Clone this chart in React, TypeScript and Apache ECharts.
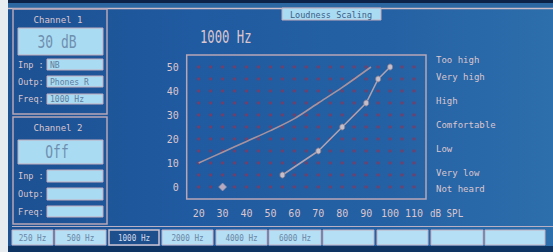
import React, { useEffect, useRef } from "react";
import * as echarts from "echarts";

// Grid of reference dots (dB SPL x loudness category units)
const gridX = [20, 25, 30, 35, 40, 45, 50, 55, 60, 65, 70, 75, 80, 85, 90, 95, 100, 105, 110];
const gridY = [0, 5, 10, 15, 20, 25, 30, 35, 40, 45, 50];

// Normal-hearing reference curve
const refLevels = [20, 30, 40, 50, 60, 70, 80, 92];
const refScale = [10, 14.5, 19, 23.5, 28.5, 35, 41.5, 50];

// Patient's loudness scaling results
const patLevels = [55, 70, 80, 90, 95, 100];
const patScale = [5, 15, 25, 35, 45, 50];

// Not heard marker
const notHeardLevel = [30];
const notHeardScale = [0];

// Loudness category labels (right side) and their scale positions
const catNames = ["Too high", "Very high", "High", "Comfortable", "Low", "Very low", "Not heard"];
const catValues = [53, 46, 36, 26, 16, 6, -1];

const xUnit = "dB SPL";
const freqButtons = ["250 Hz", "500 Hz", "1000 Hz", "2000 Hz", "4000 Hz", "6000 Hz", "", "", "", ""];
const selectedFreq = 2;

const FONT = '"DejaVu Sans Mono", monospace';
const TXT = "#dcc6ce";
const LINE = "#b8a6b6";
const BOX = "#a9dbf3";
const BOXTXT = "#5f7d9c";

function App() {
  const ref = useRef<HTMLDivElement>(null);
  useEffect(() => {
    if (!ref.current) return;
    const chart = echarts.init(ref.current, undefined, { renderer: "svg" });

    const dots: number[][] = [];
    gridX.forEach((x) => gridY.forEach((y) => dots.push([x, y])));
    const refData = refLevels.map((x, i) => [x, refScale[i]]);
    const patData = patLevels.map((x, i) => [x, patScale[i]]);
    const nhData = notHeardLevel.map((x, i) => [x, notHeardScale[i]]);
    const catMap: Record<string, string> = {};
    catValues.forEach((v, i) => (catMap[String(v)] = catNames[i]));

    const g: any[] = [];
    const text = (x: number, y: number, t: string, size: number, fill: string, align = "left", sx = 1) =>
      g.push({
        type: "text",
        x,
        y,
        scaleX: sx,
        style: { text: t, fill, font: `${size}px ${FONT}`, textAlign: align, textVerticalAlign: "middle" },
      });
    const rect = (x: number, y: number, w: number, h: number, fill: string, stroke?: string, lw = 1) =>
      g.push({ type: "rect", shape: { x, y, width: w, height: h }, style: { fill, stroke, lineWidth: lw } });
    const line = (x1: number, y1: number, x2: number, y2: number, stroke: string, lw = 1.5) =>
      g.push({ type: "line", shape: { x1, y1, x2, y2 }, style: { stroke, lineWidth: lw } });

    // frame / photo edges
    rect(0, 0, 553, 3, "#0c2246");
    rect(8, 3, 545, 5, "#2c67a2");
    rect(0, 0, 8, 252, "#e6ecf0");
    line(8, 8.5, 553, 8.5, "#cbbcc8", 1.5);
    rect(8, 246, 545, 6, "#0e3463");
    line(12, 226.5, 553, 226.5, "#b8b0c4", 1.2);

    // Channel panels
    const channel = (top: number, h: number, title: string, value: string, vBox: number[], rows: number[][], vals: string[]) => {
      rect(13, top, 94, h, "rgba(0,0,0,0)", LINE, 1.5);
      text(58, top + 11, title, 9, TXT, "center");
      rect(18, vBox[0], 85, vBox[1], BOX, "#c4acbc", 1);
      text(57, vBox[0] + vBox[1] / 2, value, 18, "#6f8fae", "center", 0.72);
      const labels = ["Inp :", "Outp:", "Freq:"];
      rows.forEach((r, i) => {
        text(18, r[0] + r[1] / 2, labels[i], 9, TXT, "left", 0.95);
        rect(47, r[0], 56, r[1], BOX, "#c4acbc", 1);
        if (vals[i]) text(50, r[0] + r[1] / 2, vals[i], 8.5, BOXTXT, "left", 0.95);
      });
    };
    channel(9, 105, "Channel 1", "30 dB", [28, 27], [[59, 11], [76, 11], [94, 10]], ["NB", "Phones R", "1000 Hz"]);
    channel(117, 107, "Channel 2", "Off", [140, 24], [[170, 12], [188, 12], [206, 11]], ["", "", ""]);

    // title tab and frequency
    rect(282, 8, 99, 12, BOX, "#c4acbc", 1);
    text(331, 14.5, "Loudness Scaling", 9, "#3d5f86", "center", 0.95);
    text(200, 37, "1000 Hz", 18, TXT, "left", 0.68);
    text(430, 213, xUnit, 10, TXT, "left", 0.92);

    // frequency buttons
    const bx = [12, 55, 109, 162, 216, 269, 323, 377, 431, 485];
    const bw = [41, 51, 50, 51, 51, 52, 51, 51, 52, 60];
    freqButtons.forEach((f, i) => {
      const sel = i === selectedFreq;
      rect(bx[i], 230, bw[i], 15, sel ? "#1c4f8c" : "#b4dff4", sel ? "#d0c4d0" : "#c6b0c0", sel ? 1.5 : 1);
      if (f) text(bx[i] + bw[i] / 2, 237.5, f, 8.5, sel ? "#d6dcec" : "#6a86a6", "center", 0.9);
    });

    chart.setOption({
      animation: false,
      backgroundColor: "transparent",
      textStyle: { fontFamily: FONT },
      grid: {
        left: 186.7,
        right: 127,
        top: 55,
        bottom: 53,
        show: true,
        borderColor: LINE,
        borderWidth: 1.5,
        backgroundColor: "transparent",
      },
      xAxis: {
        type: "value",
        min: 15,
        max: 115,
        interval: 5,
        splitLine: { show: false },
        axisTick: { show: false },
        axisLine: { show: false },
        axisLabel: {
          color: TXT,
          fontSize: 10,
          fontFamily: FONT,
          margin: 9,
          formatter: (v: number) => (v % 10 === 0 && v >= 20 && v <= 110 ? String(v) : ""),
        },
      },
      yAxis: [
        {
          type: "value",
          min: -5,
          max: 55,
          interval: 5,
          splitLine: { show: false },
          axisTick: { show: false },
          axisLine: { show: false },
          axisLabel: {
            color: TXT,
            fontSize: 10,
            fontFamily: FONT,
            margin: 8,
            formatter: (v: number) => (v % 10 === 0 && v >= 0 && v <= 50 ? String(v) : ""),
          },
        },
        {
          type: "value",
          position: "right",
          min: -5,
          max: 55,
          interval: 1,
          splitLine: { show: false },
          axisTick: { show: false },
          axisLine: { show: false },
          axisLabel: {
            interval: 0,
            color: TXT,
            fontSize: 9,
            fontFamily: FONT,
            margin: 10,
            formatter: (v: number) => catMap[String(v)] || "",
          },
        },
      ],
      graphic: g,
      series: [
        {
          type: "scatter",
          data: dots,
          symbol: "circle",
          symbolSize: 3.2,
          itemStyle: { color: "#86385c" },
          silent: true,
          z: 1,
        },
        {
          type: "line",
          data: refData,
          showSymbol: false,
          smooth: 0.3,
          lineStyle: { color: "#a8929e", width: 1.6 },
          silent: true,
          z: 2,
        },
        {
          type: "line",
          data: patData,
          symbol: "circle",
          symbolSize: [5, 6],
          itemStyle: { color: "#c6bec8", borderColor: "#8e7e90", borderWidth: 0.8 },
          lineStyle: { color: "#b0a2b0", width: 1.6 },
          silent: true,
          z: 3,
        },
        {
          type: "scatter",
          data: nhData,
          symbol: "diamond",
          symbolSize: 8,
          itemStyle: { color: "#d2c2ce", borderColor: "#9a8aa0", borderWidth: 0.8 },
          silent: true,
          z: 3,
        },
      ],
    });
    return () => chart.dispose();
  }, []);

  return (
    <div
      style={{
        position: "fixed",
        left: 0,
        top: 0,
        width: 553,
        height: 252,
        background: "linear-gradient(90deg, #1c5192 0%, #205aa0 35%, #2461a4 70%, #2d6eac 100%)",
      }}
    >
      <div ref={ref} style={{ width: 553, height: 252 }} />
    </div>
  );
}

export default App;
